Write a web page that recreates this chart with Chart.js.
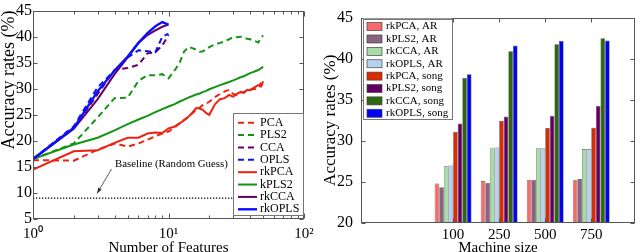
<!DOCTYPE html>
<html><head><meta charset="utf-8">
<script src="https://cdn.jsdelivr.net/npm/chart.js@4.4.0/dist/chart.umd.min.js"></script>
<style>
html,body{margin:0;padding:0;background:#fff;}
#wrap{position:relative;width:640px;height:252px;overflow:hidden;background:#fff;}
canvas{position:absolute;top:0;}
#c1{left:0;} #c2{left:320px;}
</style></head><body>
<div id="wrap"><canvas id="c1" width="320" height="252"></canvas><canvas id="c2" width="320" height="252"></canvas></div>
<script>
// ---------- Left chart data ----------
const featX50 = [1,2,3,4,5,6,7,8,9,10,11,12,13,14,15,16,17,18,19,20,22,24,26,28,30,32,34,36,38,40,42,44,46,48,50];
const featX10 = [1,2,3,4,5,6,7,8,9,10];
const pcaY   = [16.3,16.2,18.3,19.5,18.9,19.5,20.2,20.9,21.4,21.8,22.5,23.3,24.0,24.6,25.3,25.9,26.4,26.9,27.2,27.5,28.4,29.0,29.5,29.8,29.0,28.8,29.2,29.4,29.6,29.8,29.9,30.0,30.3,31.0,30.4];
const pls2Y  = [16.5,19.5,24.5,28.2,28.3,31.5,32.6,32.6,32.8,32.0,33.4,34.8,37.1,38.0,37.8,37.5,37.1,37.2,37.6,38.0,38.5,38.8,39.1,39.5,39.9,39.9,40.0,39.8,39.6,39.5,39.3,39.1,38.9,39.8,40.2];
const ccaY   = [16.5,22.4,29.0,33.6,34.0,34.6,36.8,37.0,38.3,40.3];
const oplsY  = [16.5,22.8,30.3,33.5,36.0,37.4,37.2,37.0,40.0,40.6];
const rkpcaY = [14.5,18.0,18.2,19.6,20.6,20.6,21.4,21.6,21.5,22.4,22.7,23.3,23.9,24.6,25.4,26.3,26.2,25.9,25.3,25.0,27.0,28.0,28.2,28.8,28.5,29.0,29.4,29.2,29.8,29.7,30.1,30.4,30.7,30.4,31.4];
const kpls2Y = [16.5,19.3,20.6,22.0,23.2,24.1,24.8,25.5,26.1,26.6,27.0,27.5,27.9,28.3,28.6,28.9,29.1,29.4,29.6,29.9,30.3,30.7,31.0,31.3,31.6,31.9,32.2,32.4,32.7,33.0,33.2,33.4,33.6,33.9,34.2];
const rkccaY = [16.5,22.3,28.0,32.8,36.0,38.8,40.3,41.2,41.9,42.3];
const rkoplsY= [16.5,22.5,29.5,33.5,36.2,38.8,40.7,42.0,42.8,42.3];
const baselineValue = 9;
const baselineX = [1, 50];
const xMajorTicks = [1, 10, 100];
const xMinorTicks = [2,3,4,5,6,7,8,9,20,30,40,50,60,70,80,90];
const xTickLabels = ['10\u2070', '10\u00B9', '10\u00B2'];
const yTicksLeft = [5,10,15,20,25,30,35,40,45];
const baselineNote = 'Baseline (Random Guess)';

// ---------- Right chart data ----------
const machineSizes = ['100','250','500','750'];
const rkpcaAR   = [24.8,25.1,25.25,25.2];
const kpls2AR   = [24.35,24.9,25.25,25.35];
const rkccaAR   = [26.95,29.1,29.1,29.0];
const rkoplsAR  = [27.0,29.2,29.1,29.0];
const rkpcaSong = [31.1,32.4,31.55,31.6];
const kpls2Song = [32.1,32.95,33.05,34.25];
const rkccaSong = [37.65,40.9,41.75,42.5];
const rkoplsSong= [38.1,41.6,42.15,42.2];
const yTicksRight = [20,25,30,35,40,45];

Chart.defaults.font.family = "'Liberation Serif','Times New Roman',serif";
Chart.defaults.color = '#000';

const pts = (xs, ys) => xs.map((x,i)=>({x:x, y:ys[i]}));

// ---------- plugins ----------
const boxTicks = {
  id:'boxTicks',
  afterDatasetsDraw(chart, args, o){
    const {ctx, chartArea:a, scales} = chart;
    ctx.save();
    ctx.strokeStyle = o.color; ctx.lineWidth = 1;
    const L = Math.round(a.left)+0.5, R = Math.round(a.right)-0.5, T = Math.round(a.top)+0.5, B = Math.round(a.bottom)-0.5;
    ctx.strokeRect(L, T, R-L, B-T);
    ctx.beginPath();
    (o.x||[]).forEach(t=>{
      const px = Math.round(scales.x.getPixelForValue(t.v))+0.5;
      ctx.moveTo(px, B); ctx.lineTo(px, B - t.len);
      ctx.moveTo(px, T); ctx.lineTo(px, T + t.len);
    });
    (o.y||[]).forEach(t=>{
      const py = Math.round(scales.y.getPixelForValue(t.v))+0.5;
      ctx.moveTo(L, py); ctx.lineTo(L + t.len, py);
      ctx.moveTo(R, py); ctx.lineTo(R - t.len, py);
    });
    ctx.stroke();
    ctx.restore();
  }
};

const note = {
  id:'note',
  afterDatasetsDraw(chart, args, o){
    if(!o.text) return;
    const {ctx, scales} = chart;
    const X = v=>scales.x.getPixelForValue(v), Y = v=>scales.y.getPixelForValue(v);
    ctx.save();
    ctx.font = o.font; ctx.fillStyle = '#000'; ctx.textBaseline = 'middle'; ctx.textAlign = 'left';
    ctx.fillText(o.text, X(o.at[0]), Y(o.at[1]));
    const x0 = X(o.from[0]), y0 = Y(o.from[1]), x1 = X(o.to[0]), y1 = Y(o.to[1]);
    ctx.strokeStyle = '#333'; ctx.lineWidth = 0.8;
    ctx.beginPath(); ctx.moveTo(x0,y0); ctx.lineTo(x1,y1); ctx.stroke();
    const ang = Math.atan2(y1-y0, x1-x0), h = 6;
    ctx.fillStyle = '#333';
    ctx.beginPath();
    ctx.moveTo(x1,y1);
    ctx.lineTo(x1 - h*Math.cos(ang-0.35), y1 - h*Math.sin(ang-0.35));
    ctx.lineTo(x1 - h*Math.cos(ang+0.35), y1 - h*Math.sin(ang+0.35));
    ctx.closePath(); ctx.fill();
    ctx.restore();
  }
};

const boxLegend = {
  id:'boxLegend',
  afterDraw(chart, args, o){
    const {ctx, chartArea:a} = chart;
    const items = chart.data.datasets.filter(d=>d.inLegend !== false);
    const x = o.anchor === 'br' ? a.right - o.dx - o.w : a.left + o.dx;
    const y = o.anchor === 'br' ? a.bottom - o.dy - o.h : a.top + o.dy;
    ctx.save();
    ctx.fillStyle = '#fff'; ctx.fillRect(x, y, o.w, o.h);
    ctx.strokeStyle = o.border; ctx.lineWidth = 1;
    ctx.strokeRect(Math.round(x)+0.5, Math.round(y)+0.5, o.w, o.h);
    ctx.font = o.font; ctx.textBaseline = 'middle'; ctx.textAlign = 'left';
    items.forEach((d,i)=>{
      const cy = y + o.first + i*o.pitch;
      if (o.kind === 'line') {
        ctx.strokeStyle = d.borderColor; ctx.lineWidth = d.borderWidth;
        ctx.setLineDash(d.borderDash || []);
        ctx.beginPath(); ctx.moveTo(x + o.s0, cy); ctx.lineTo(x + o.s1, cy); ctx.stroke();
        ctx.setLineDash([]);
      } else {
        ctx.fillStyle = d.backgroundColor;
        ctx.fillRect(x + o.s0, cy - o.sh/2, o.s1 - o.s0, o.sh);
        ctx.strokeStyle = '#444'; ctx.lineWidth = 0.7;
        ctx.strokeRect(x + o.s0, cy - o.sh/2, o.s1 - o.s0, o.sh);
      }
      ctx.fillStyle = '#000';
      ctx.fillText(d.label, x + o.tx, cy);
    });
    ctx.restore();
  }
};

// ---------- Left chart ----------
const RED = '#ee2211', GREEN = '#139413', PURPLE = '#660066', BLUE = '#0a10ff';
const lineDs = (label, xs, ys, color, dashed, width) => ({
  label, data: pts(xs, ys), borderColor: color, backgroundColor: color,
  borderWidth: width || 2, borderDash: dashed ? [6,4] : [], pointRadius: 0, tension: 0, fill: false
});
const leftSets = [
  lineDs('PCA', featX50, pcaY, RED, true),
  lineDs('PLS2', featX50, pls2Y, GREEN, true),
  lineDs('CCA', featX10, ccaY, PURPLE, true),
  lineDs('OPLS', featX10, oplsY, BLUE, true),
  lineDs('rkPCA', featX50, rkpcaY, RED, false),
  lineDs('kPLS2', featX50, kpls2Y, GREEN, false),
  lineDs('rkCCA', featX10, rkccaY, PURPLE, false),
  lineDs('rkOPLS', featX10, rkoplsY, BLUE, false, 2.4)
];
leftSets.forEach((d,i)=>{ d.order = -i; });
leftSets.unshift({
  label:'Baseline', inLegend:false, data: baselineX.map(x=>({x, y: baselineValue})),
  borderColor:'#000', borderWidth:1.3, borderDash:[1.3,1.7], pointRadius:0, fill:false, order: 5
});

new Chart(document.getElementById('c1'), {
  type:'line',
  data:{ datasets: leftSets },
  plugins:[boxTicks, note, boxLegend],
  options:{
    responsive:false, animation:false, devicePixelRatio:1,
    layout:{ padding:{left:0,right:16,top:10,bottom:0}, autoPadding:false },
    plugins:{
      legend:{display:false}, tooltip:{enabled:false},
      boxTicks:{ color:'#555',
        x: xMajorTicks.map(v=>({v, len:5})).concat(xMinorTicks.map(v=>({v, len:3}))),
        y: yTicksLeft.map(v=>({v, len:4})) },
      note:{ text: baselineNote, font:"10.8px 'Liberation Serif', serif",
        at:[4.03, 15.5], from:[3.8, 14.6], to:[2.97, 9.9] },
      boxLegend:{ kind:'line', anchor:'br', dx:1, dy:4, w:70, h:102, first:9.7, pitch:12.37,
        s0:5, s1:24, tx:27, border:'#777', font:"12px 'Liberation Serif', serif" }
    },
    scales:{
      x:{ type:'logarithmic', min:1, max:100,
        grid:{display:false, drawTicks:false}, border:{display:false},
        afterBuildTicks: s=>{ s.ticks = xMajorTicks.map(v=>({value:v})); },
        afterFit: s=>{ s.height = 33; },
        ticks:{ autoSkip:false, maxRotation:0, padding:6, font:{size:15}, color:'#000',
          callback:(v)=>{ const i = xMajorTicks.indexOf(v); return i>=0 ? xTickLabels[i] : ''; } },
        title:{ display:true, text:'Number of Features', font:{size:15}, color:'#000', padding:{top:0,bottom:-5} }
      },
      y:{ min:5, max:45,
        grid:{display:false, drawTicks:false}, border:{display:false},
        afterBuildTicks: s=>{ s.ticks = yTicksLeft.map(v=>({value:v})); },
        afterFit: s=>{ s.width = 33; },
        ticks:{ padding:1, font:{size:16}, color:'#000' },
        title:{ display:true, text:'Accuracy rates (%)', align:'end', font:{size:18, lineHeight:1}, color:'#000', padding:0 }
      }
    }
  }
});

// ---------- Right chart ----------
const barDs = (label, vals, color) => ({
  label, data: vals.map((v,i)=>({x:i+1, y:v})), backgroundColor: color,
  borderColor:'rgba(20,20,20,0.75)', borderWidth:0.6, categoryPercentage:0.8, barPercentage:1
});
const rightSets = [
  barDs('rkPCA, AR', rkpcaAR, '#f76a6a'),
  barDs('kPLS2, AR', kpls2AR, '#8a6282'),
  barDs('rkCCA, AR', rkccaAR, '#a6dca6'),
  barDs('rkOPLS, AR', rkoplsAR, '#b6d2ef'),
  barDs('rkPCA, song', rkpcaSong, '#dd2a00'),
  barDs('kPLS2, song', kpls2Song, '#620062'),
  barDs('rkCCA, song', rkccaSong, '#2e680e'),
  barDs('rkOPLS, song', rkoplsSong, '#0000ff')
];

new Chart(document.getElementById('c2'), {
  type:'bar',
  data:{ datasets: rightSets },
  plugins:[boxTicks, boxLegend],
  options:{
    responsive:false, animation:false, devicePixelRatio:1,
    layout:{ padding:{left:0,right:5,top:6,bottom:0}, autoPadding:false },
    plugins:{
      legend:{display:false}, tooltip:{enabled:false},
      boxTicks:{ color:'#555',
        x: machineSizes.map((_,i)=>({v:i+1, len:4})),
        y: yTicksRight.map(v=>({v, len:4})) },
      boxLegend:{ kind:'box', anchor:'tl', dx:2, dy:1, w:89, h:100, first:8, pitch:12.38,
        s0:4, s1:19, sh:8, tx:23, border:'#777', font:"11px 'Liberation Serif', serif" }
    },
    scales:{
      x:{ type:'linear', min:-1, max:4.95, offset:false,
        grid:{display:false, drawTicks:false}, border:{display:false},
        afterBuildTicks: s=>{ s.ticks = machineSizes.map((_,i)=>({value:i+1})); },
        afterFit: s=>{ s.height = 29; },
        ticks:{ autoSkip:false, maxRotation:0, padding:3, font:{size:15}, color:'#000',
          callback:(v)=> machineSizes[v-1] !== undefined ? machineSizes[v-1] : '' },
        title:{ display:true, text:'Machine size', font:{size:15}, color:'#000', padding:{top:0,bottom:-5} }
      },
      y:{ min:20, max:45,
        grid:{display:false, drawTicks:false}, border:{display:false},
        afterBuildTicks: s=>{ s.ticks = yTicksRight.map(v=>({value:v})); },
        afterFit: s=>{ s.width = 41; },
        ticks:{ padding:8, font:{size:16}, color:'#000' },
        title:{ display:true, text:'Accuracy rates (%)', font:{size:17, lineHeight:1}, color:'#000', padding:2.5 }
      }
    }
  }
});
</script>
</body></html>
